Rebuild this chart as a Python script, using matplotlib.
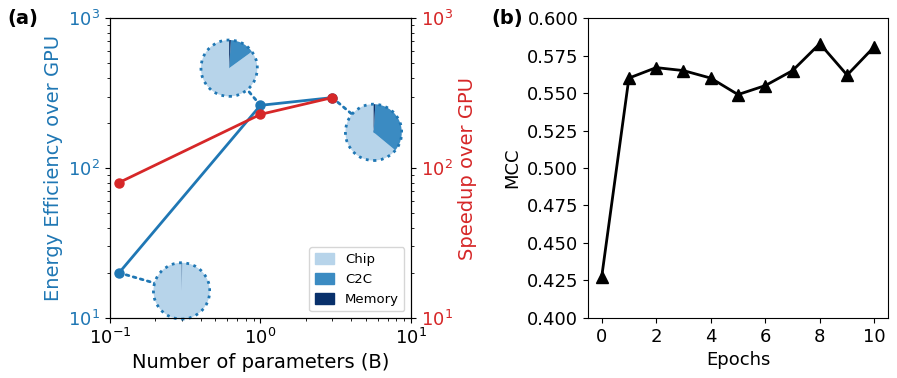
import matplotlib.pyplot as plt
import numpy as np
from matplotlib.patches import ConnectionPatch

# panel (a) data
params = [0.115, 1.0, 3.0]
energy_eff = [20, 262, 295]
speedup = [80, 228, 295]

pie_labels = ["Chip", "C2C", "Memory"]
pie_fracs = [
    [99.6, 0.2, 0.2],   # 0.115B
    [85.0, 14.0, 1.0],  # 1B
    [64.0, 35.0, 1.0],  # 3B
]

# panel (b) data
epochs = list(range(11))
mcc = [0.427, 0.560, 0.567, 0.565, 0.560, 0.549, 0.555, 0.565, 0.583, 0.562, 0.581]

blue = "tab:blue"
red = "tab:red"
pie_colors = [plt.cm.Blues(0.3), plt.cm.Blues(0.65), plt.cm.Blues(1.0)]

fig = plt.figure(figsize=(8.97, 3.78), dpi=100)
ax = fig.add_axes([0.1226, 0.159, 0.3355, 0.793])
ax2 = ax.twinx()

ax.plot(params, energy_eff, "-o", color=blue, lw=2, ms=6.5)
ax2.plot(params, speedup, "-o", color=red, lw=2, ms=6.5)

ax.set_xscale("log")
ax.set_yscale("log")
ax2.set_yscale("log")
ax.set_xlim(1e-1, 1e1)
ax.set_ylim(1e1, 1e3)
ax2.set_ylim(1e1, 1e3)

ax.set_xlabel("Number of parameters (B)", fontsize=14)
ax.set_ylabel("Energy Efficiency over GPU", color=blue, fontsize=14)
ax2.set_ylabel("Speedup over GPU", color=red, fontsize=14)
ax.tick_params(axis="x", labelsize=13)
ax.tick_params(axis="y", which="both", labelcolor=blue, labelsize=13)
ax2.tick_params(axis="y", which="both", labelcolor=red, labelsize=13)

# inset pies (axes-fraction positions)
pie_pos = [(0.238, 0.09), (0.396, 0.833), (0.876, 0.619)]
r = 0.1
for i, (cx, cy) in enumerate(pie_pos):
    pax = ax.inset_axes([cx - r, cy - r * 298 / 299, 2 * r, 2 * r * 298 / 299])
    pax.pie(pie_fracs[i], colors=pie_colors, startangle=90, counterclock=True,
            wedgeprops=dict(linewidth=0))
    circ = plt.Circle((0, 0), 1.0, fill=False, ls=":", lw=2, color=blue)
    pax.add_patch(circ)
    pax.set_xlim(-1.06, 1.06)
    pax.set_ylim(-1.06, 1.06)
    pax.set_aspect("equal")
    pax.axis("off")
    con = ConnectionPatch(xyA=(params[i], energy_eff[i]), coordsA=ax.transData,
                          xyB=(0, 0), coordsB=pax.transData,
                          ls=":", lw=2, color=blue, zorder=0)
    ax.add_artist(con)
    pax.set_zorder(3)

handles = [plt.Rectangle((0, 0), 1, 1, color=c) for c in pie_colors]
leg = ax.legend(handles, pie_labels, loc="lower right", fontsize=9.5,
                handlelength=1.5, handleheight=1.0)

fig.text(0.008, 0.95, "(a)", fontsize=14, fontweight="bold", va="center")

# panel (b)
bx = fig.add_axes([0.6555, 0.159, 0.3345, 0.793])
bx.plot(epochs, mcc, "-^", color="black", lw=2, ms=8)
bx.set_ylim(0.4, 0.6)
bx.set_yticks(np.arange(0.400, 0.6001, 0.025))
bx.set_xticks([0, 2, 4, 6, 8, 10])
bx.set_xlabel("Epochs", fontsize=13)
bx.set_ylabel("MCC", fontsize=13)
bx.tick_params(labelsize=13)

fig.text(0.548, 0.95, "(b)", fontsize=14, fontweight="bold", va="center")

fig.savefig("out.png", dpi=100)
